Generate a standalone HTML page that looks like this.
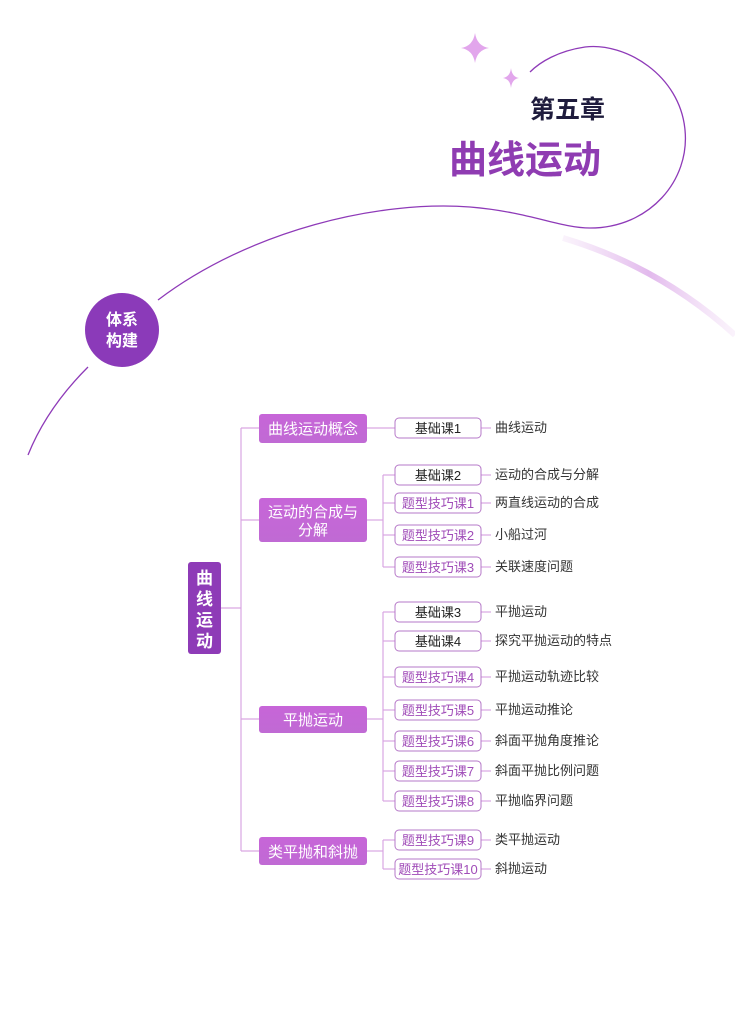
<!DOCTYPE html>
<html><head><meta charset="utf-8">
<style>
html,body{margin:0;padding:0;background:#fff;}
svg{display:block;}
text{font-family:"Liberation Sans","Noto Sans CJK SC",sans-serif;}
</style></head><body>
<svg width="735" height="1010" viewBox="0 0 735 1010" xmlns="http://www.w3.org/2000/svg">
<defs>
<linearGradient id="sw" x1="0" y1="0" x2="1" y2="0">
<stop offset="0" stop-color="#e6c3ee" stop-opacity="0.2"/>
<stop offset="0.5" stop-color="#dba8e8" stop-opacity="0.8"/>
<stop offset="1" stop-color="#efd6f4" stop-opacity="0.3"/>
</linearGradient>
<linearGradient id="l1" x1="0" y1="0" x2="0" y2="1">
<stop offset="0" stop-color="#c765d8"/><stop offset="1" stop-color="#c06ad4"/>
</linearGradient>
</defs>
<!-- curves -->
<path d="M158,300 C 250,230 380,200 470,207 C 530,212 560,228 590,228 C 650,228 690,180 685,130 C 680,75 625,42 585,47 C 558,51 540,62 530,72" fill="none" stroke="#8e3ab8" stroke-width="1.3"/>
<path d="M88,367 C 60,395 40,425 28,455" fill="none" stroke="#8e3ab8" stroke-width="1.3"/>
<path d="M563,238 C 620,255 680,285 735,335" fill="none" stroke="url(#sw)" stroke-width="6"/>
<!-- stars -->
<path d="M475,33 Q477,46 489,48 Q477,50 475,63 Q473,50 461,48 Q473,46 475,33Z" fill="#e2a6ec"/>
<path d="M511,68 Q512,77 519,78 Q512,79 511,88 Q510,79 503,78 Q510,77 511,68Z" fill="#e2a6ec"/>
<!-- title -->
<text x="605" y="118" text-anchor="end" font-size="25" font-weight="bold" fill="#1f1c3d">第五章</text>
<text x="601" y="173" text-anchor="end" font-size="38" font-weight="bold" fill="#8f3cb2">曲线运动</text>
<!-- circle -->
<circle cx="122" cy="330" r="37" fill="#8b3ab9"/>
<text x="122" y="325" text-anchor="middle" font-size="16" font-weight="bold" fill="#fff">体系</text>
<text x="122" y="346" text-anchor="middle" font-size="16" font-weight="bold" fill="#fff">构建</text>
<!-- connectors -->
<g stroke="#d9a6e2" stroke-width="1.2" fill="none">
<line x1="221" y1="608" x2="241" y2="608"/>
<line x1="241" y1="428" x2="241" y2="851"/>
<line x1="241" y1="428" x2="259" y2="428"/>
<line x1="241" y1="520" x2="259" y2="520"/>
<line x1="241" y1="719" x2="259" y2="719"/>
<line x1="241" y1="851" x2="259" y2="851"/>
<line x1="367" y1="428" x2="395" y2="428"/>
<line x1="367" y1="520" x2="383" y2="520"/>
<line x1="383" y1="475" x2="383" y2="567"/>
<line x1="367" y1="719" x2="383" y2="719"/>
<line x1="383" y1="612" x2="383" y2="801"/>
<line x1="367" y1="851" x2="383" y2="851"/>
<line x1="383" y1="840" x2="383" y2="869"/>
<g id="h">
<line x1="383" y1="475" x2="395" y2="475"/><line x1="383" y1="503" x2="395" y2="503"/><line x1="383" y1="535" x2="395" y2="535"/><line x1="383" y1="567" x2="395" y2="567"/>
<line x1="383" y1="612" x2="395" y2="612"/><line x1="383" y1="641" x2="395" y2="641"/><line x1="383" y1="677" x2="395" y2="677"/><line x1="383" y1="710" x2="395" y2="710"/><line x1="383" y1="741" x2="395" y2="741"/><line x1="383" y1="771" x2="395" y2="771"/><line x1="383" y1="801" x2="395" y2="801"/><line x1="383" y1="840" x2="395" y2="840"/><line x1="383" y1="869" x2="395" y2="869"/>
</g>
<g>
<line x1="481" y1="428" x2="491" y2="428"/><line x1="481" y1="475" x2="491" y2="475"/><line x1="481" y1="503" x2="491" y2="503"/><line x1="481" y1="535" x2="491" y2="535"/><line x1="481" y1="567" x2="491" y2="567"/>
<line x1="481" y1="612" x2="491" y2="612"/><line x1="481" y1="641" x2="491" y2="641"/><line x1="481" y1="677" x2="491" y2="677"/><line x1="481" y1="710" x2="491" y2="710"/><line x1="481" y1="741" x2="491" y2="741"/><line x1="481" y1="771" x2="491" y2="771"/><line x1="481" y1="801" x2="491" y2="801"/><line x1="481" y1="840" x2="491" y2="840"/><line x1="481" y1="869" x2="491" y2="869"/>
</g>
</g>
<!-- root -->
<rect x="188" y="562" width="33" height="92" rx="3" fill="#8e3bb7"/>
<g font-size="17" font-weight="bold" fill="#fff" text-anchor="middle">
<text x="204.5" y="584">曲</text><text x="204.5" y="605">线</text><text x="204.5" y="626">运</text><text x="204.5" y="647">动</text>
</g>
<!-- level 1 -->
<g fill="url(#l1)">
<rect x="259" y="414" width="108" height="29" rx="3"/>
<rect x="259" y="498" width="108" height="44" rx="3"/>
<rect x="259" y="706" width="108" height="27" rx="3"/>
<rect x="259" y="837" width="108" height="28" rx="3"/>
</g>
<g font-size="15" fill="#fff" text-anchor="middle">
<text x="313" y="434">曲线运动概念</text>
<text x="313" y="517">运动的合成与</text>
<text x="313" y="535">分解</text>
<text x="313" y="725">平抛运动</text>
<text x="313" y="857">类平抛和斜抛</text>
</g>
<!-- level 2 boxes -->
<g fill="#fff" stroke="#b678c8" stroke-width="1">
<rect x="395" y="418" width="86" height="20" rx="4"/>
<rect x="395" y="465" width="86" height="20" rx="4"/>
<rect x="395" y="493" width="86" height="20" rx="4"/>
<rect x="395" y="525" width="86" height="20" rx="4"/>
<rect x="395" y="557" width="86" height="20" rx="4"/>
<rect x="395" y="602" width="86" height="20" rx="4"/>
<rect x="395" y="631" width="86" height="20" rx="4"/>
<rect x="395" y="667" width="86" height="20" rx="4"/>
<rect x="395" y="700" width="86" height="20" rx="4"/>
<rect x="395" y="731" width="86" height="20" rx="4"/>
<rect x="395" y="761" width="86" height="20" rx="4"/>
<rect x="395" y="791" width="86" height="20" rx="4"/>
<rect x="395" y="830" width="86" height="20" rx="4"/>
<rect x="395" y="859" width="86" height="20" rx="4"/>
</g>
<g font-size="13" text-anchor="middle">
<text x="438" y="433" fill="#222">基础课1</text>
<text x="438" y="480" fill="#222">基础课2</text>
<text x="438" y="508" fill="#a04cb8">题型技巧课1</text>
<text x="438" y="540" fill="#a04cb8">题型技巧课2</text>
<text x="438" y="572" fill="#a04cb8">题型技巧课3</text>
<text x="438" y="617" fill="#222">基础课3</text>
<text x="438" y="646" fill="#222">基础课4</text>
<text x="438" y="682" fill="#a04cb8">题型技巧课4</text>
<text x="438" y="715" fill="#a04cb8">题型技巧课5</text>
<text x="438" y="746" fill="#a04cb8">题型技巧课6</text>
<text x="438" y="776" fill="#a04cb8">题型技巧课7</text>
<text x="438" y="806" fill="#a04cb8">题型技巧课8</text>
<text x="438" y="845" fill="#a04cb8">题型技巧课9</text>
<text x="438" y="874" fill="#a04cb8">题型技巧课10</text>
</g>
<g font-size="13" fill="#333">
<text x="495" y="432">曲线运动</text>
<text x="495" y="479">运动的合成与分解</text>
<text x="495" y="507">两直线运动的合成</text>
<text x="495" y="539">小船过河</text>
<text x="495" y="571">关联速度问题</text>
<text x="495" y="616">平抛运动</text>
<text x="495" y="645">探究平抛运动的特点</text>
<text x="495" y="681">平抛运动轨迹比较</text>
<text x="495" y="714">平抛运动推论</text>
<text x="495" y="745">斜面平抛角度推论</text>
<text x="495" y="775">斜面平抛比例问题</text>
<text x="495" y="805">平抛临界问题</text>
<text x="495" y="844">类平抛运动</text>
<text x="495" y="873">斜抛运动</text>
</g>
</svg>
</body></html>
